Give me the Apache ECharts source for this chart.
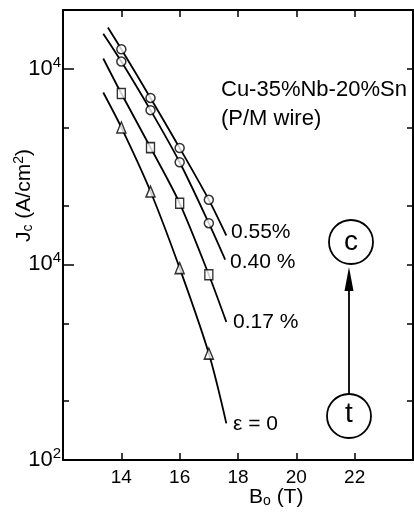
<!DOCTYPE html>
<html>
<head>
<meta charset="utf-8">
<script src="https://cdn.jsdelivr.net/npm/echarts@6/dist/echarts.min.js"></script>
<style>
  html, body { margin: 0; padding: 0; background: #fff; }
  #main { width: 414px; height: 515px; }
</style>
</head>
<body>
<div id="main"></div>
<script>
  // values
  var bField = [14, 15, 16, 17];
  var jc055 = [12600, 7100, 3940, 2140];
  var jc040 = [10900, 6150, 3330, 1625];
  var jc017 = [7480, 3960, 2055, 886];
  var jc000 = [5015, 2360, 957, 350];

  // where the drawn curves start / stop (B, Jc)
  var curveStartB = [13.54, 13.38, 13.38, 13.38];
  var curveStartJ = [16260, 15130, 11300, 7570];
  var curveEndB = [17.6, 17.56, 17.6, 17.6];
  var curveEndJ = [1406, 1057, 508, 154];

  var seriesNames = ['0.55 %', '0.40 %', '0.17 %', 'ε = 0'];
  var seriesSymbols = ['circle', 'circle', 'rect', 'triangle'];

  var xTicks = [14, 16, 18, 20, 22];
  var yMajor = [100, 1000, 10000];
  var yMajorLabels = ['10{s|2}', '10{s|4}', '10{s|4}'];
  var yMinor = [200, 500, 2000, 5000, 20000];
  var yAll = [100, 200, 500, 1000, 2000, 5000, 10000, 20000];

  var FONT = 'Liberation Sans';
  var allJ = [jc055, jc040, jc017, jc000];

  var series = [];
  for (var k = 0; k < 4; k++) {
    var pts = [[curveStartB[k], curveStartJ[k]]];
    for (var i = 0; i < bField.length; i++) pts.push([bField[i], allJ[k][i]]);
    pts.push([curveEndB[k], curveEndJ[k]]);
    series.push({
      name: seriesNames[k] + ' line',
      type: 'line',
      data: pts,
      smooth: 0.3,
      showSymbol: false,
      lineStyle: { color: '#000', width: 1.8 },
      z: 2
    });
    var marks = [];
    for (var j = 0; j < bField.length; j++) marks.push([bField[j], allJ[k][j]]);
    series.push({
      name: seriesNames[k],
      type: 'scatter',
      data: marks,
      symbol: seriesSymbols[k],
      symbolSize: seriesSymbols[k] == 'rect' ? [8, 10] : (seriesSymbols[k] == 'triangle' ? [9, 11] : 9),
      itemStyle: { color: '#fff', borderColor: '#000', borderWidth: 1.5 },
      z: 3
    });
  }

  var chart = echarts.init(document.getElementById('main'));
  chart.setOption({
    backgroundColor: '#fff',
    animation: false,
    textStyle: { fontFamily: FONT, color: '#000' },
    grid: { left: 63, right: 1, top: 10, bottom: 55 },
    xAxis: [
      {
        type: 'value', min: 12, max: 24, interval: 2,
        axisLine: { lineStyle: { color: '#000', width: 2 } },
        axisTick: { inside: true, length: 7, lineStyle: { color: '#000', width: 1.5 }, customValues: xTicks },
        axisLabel: { customValues: xTicks, color: '#000', fontSize: 19, fontFamily: FONT, margin: 8 },
        splitLine: { show: false }
      },
      {
        type: 'value', min: 12, max: 24, interval: 2, position: 'top',
        axisLine: { onZero: false, lineStyle: { color: '#000', width: 2 } },
        axisTick: { inside: true, length: 7, lineStyle: { color: '#000', width: 1.5 }, customValues: xTicks },
        axisLabel: { show: false },
        splitLine: { show: false }
      }
    ],
    yAxis: [
      {
        type: 'log', min: 100, max: 20000, position: 'left',
        axisLine: { lineStyle: { color: '#000', width: 2 } },
        axisTick: { inside: true, length: 11, lineStyle: { color: '#000', width: 1.5 }, customValues: yMajor },
        axisLabel: {
          customValues: yMajor, margin: 2, color: '#000', fontSize: 22, fontFamily: FONT,
          formatter: function (v) {
            var idx = yMajor.indexOf(Math.round(v));
            return idx >= 0 ? yMajorLabels[idx] : '';
          },
          rich: { s: { fontSize: 15, fontFamily: FONT, verticalAlign: 'top', padding: [0, 0, 13, 0] } }
        },
        splitLine: { show: false }
      },
      {
        type: 'log', min: 100, max: 20000, position: 'left',
        axisLine: { show: false },
        axisTick: { inside: true, length: 6, lineStyle: { color: '#000', width: 1.5 }, customValues: yMinor },
        axisLabel: { show: false },
        splitLine: { show: false }
      },
      {
        type: 'log', min: 100, max: 20000, position: 'right',
        axisLine: { lineStyle: { color: '#000', width: 2 } },
        axisTick: { inside: true, length: 6, lineStyle: { color: '#000', width: 1.5 }, customValues: yAll },
        axisLabel: { show: false },
        splitLine: { show: false }
      }
    ],
    series: series,
    graphic: [
      { type: 'text', left: 221, top: 79, style: { text: 'Cu-35%Nb-20%Sn', font: '22px "' + FONT + '"', fill: '#000' } },
      { type: 'text', left: 221, top: 108, style: { text: '(P/M wire)', font: '22px "' + FONT + '"', fill: '#000' } },
      { type: 'text', left: 231, top: 222, style: { text: '0.55%', font: '21px "' + FONT + '"', fill: '#000' } },
      { type: 'text', left: 230, top: 252, style: { text: '0.40 %', font: '21px "' + FONT + '"', fill: '#000' } },
      { type: 'text', left: 233, top: 312, style: { text: '0.17 %', font: '21px "' + FONT + '"', fill: '#000' } },
      { type: 'text', left: 233, top: 414, style: { text: 'ε = 0', font: '21px "' + FONT + '"', fill: '#000' } },
      {
        type: 'text', x: 249, y: 486,
        style: {
          text: 'B{sub|o} (T)', font: '21px "' + FONT + '"', fill: '#000',
          rich: { sub: { fontSize: 14, fontFamily: FONT, verticalAlign: 'bottom', padding: [8, 0, 0, 0] } }
        }
      },
      {
        type: 'text', x: 12, y: 242, rotation: Math.PI / 2,
        style: {
          text: 'J{sub|c} (A/cm{sup|2})', font: '21px "' + FONT + '"', fill: '#000',
          rich: {
            sub: { fontSize: 14, fontFamily: FONT, padding: [8, 0, 0, 0] },
            sup: { fontSize: 14, fontFamily: FONT, padding: [0, 0, 10, 0] }
          }
        }
      },
      { type: 'circle', shape: { cx: 351, cy: 242, r: 22 }, style: { fill: 'none', stroke: '#000', lineWidth: 1.8 } },
      { type: 'text', x: 351, y: 242, style: { text: 'c', font: '28px "' + FONT + '"', fill: '#000', align: 'center', verticalAlign: 'middle' } },
      { type: 'circle', shape: { cx: 349, cy: 416, r: 22 }, style: { fill: 'none', stroke: '#000', lineWidth: 1.8 } },
      { type: 'text', x: 349, y: 414, style: { text: 't', font: '28px "' + FONT + '"', fill: '#000', align: 'center', verticalAlign: 'middle' } },
      { type: 'line', shape: { x1: 349, y1: 394, x2: 349, y2: 285 }, style: { stroke: '#000', lineWidth: 1.8 } },
      { type: 'polygon', shape: { points: [[349, 267], [344.5, 291], [353.5, 291]] }, style: { fill: '#000' } }
    ]
  });
</script>
</body>
</html>
